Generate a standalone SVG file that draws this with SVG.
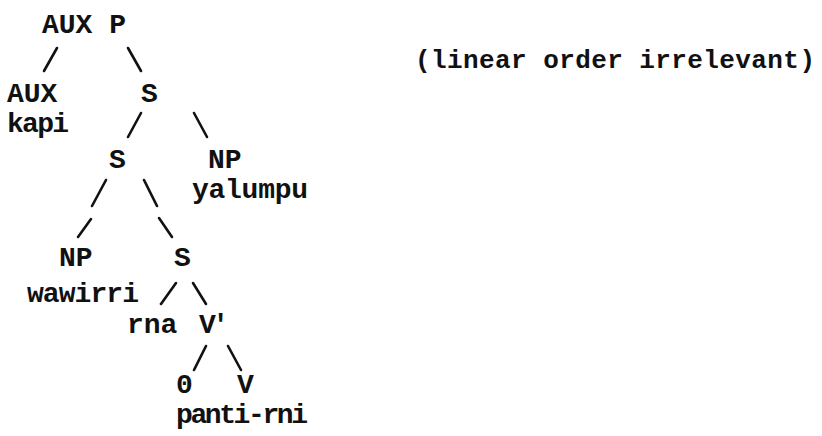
<svg xmlns="http://www.w3.org/2000/svg" width="822" height="436" viewBox="0 0 822 436">
<style>
text{font-family:"Liberation Mono","DejaVu Sans Mono",monospace;font-size:28px;font-weight:bold;fill:#111}
.note{font-size:26px}
line{stroke:#111;stroke-width:2.6;stroke-linecap:round}
</style>
<rect width="822" height="436" fill="#fff"/>
<g id="connectors">
<line x1="44" y1="71" x2="57" y2="48"/>
<line x1="128" y1="48" x2="141" y2="71"/>
<line x1="128" y1="137" x2="141" y2="113"/>
<line x1="194" y1="113" x2="207" y2="137"/>
<line x1="92" y1="206" x2="106" y2="180"/>
<line x1="144" y1="180" x2="157" y2="206"/>
<line x1="78" y1="237" x2="91" y2="219"/>
<line x1="159" y1="218" x2="172" y2="237"/>
<line x1="161" y1="304" x2="176" y2="283"/>
<line x1="193" y1="283" x2="206" y2="304"/>
<line x1="194" y1="370" x2="206" y2="346"/>
<line x1="228" y1="346" x2="241" y2="370"/>
</g>
<g id="root"><text x="42" y="33">AUX P</text></g>
<g id="aux"><text x="7" y="102">AUX</text><text x="7" y="132" textLength="62">kapi</text></g>
<g id="s1"><text x="141" y="102">S</text></g>
<g id="s2"><text x="109" y="168">S</text></g>
<g id="np1"><text x="208" y="168">NP</text><text x="192" y="198" textLength="116">yalumpu</text></g>
<g id="np2"><text x="59" y="266">NP</text><text x="27" y="302" textLength="112">wawirri</text></g>
<g id="s3"><text x="174" y="266">S</text></g>
<g id="rna"><text x="127" y="333">rna</text></g>
<g id="vbar"><text x="199" y="333" textLength="30">V'</text></g>
<g id="zero"><text x="176" y="393">0</text></g>
<g id="v"><text x="237" y="393">V</text><text x="176" y="423" textLength="132">panti-rni</text></g>
<g id="note"><text class="note" x="415" y="68" textLength="400">(linear order irrelevant)</text></g>
</svg>
